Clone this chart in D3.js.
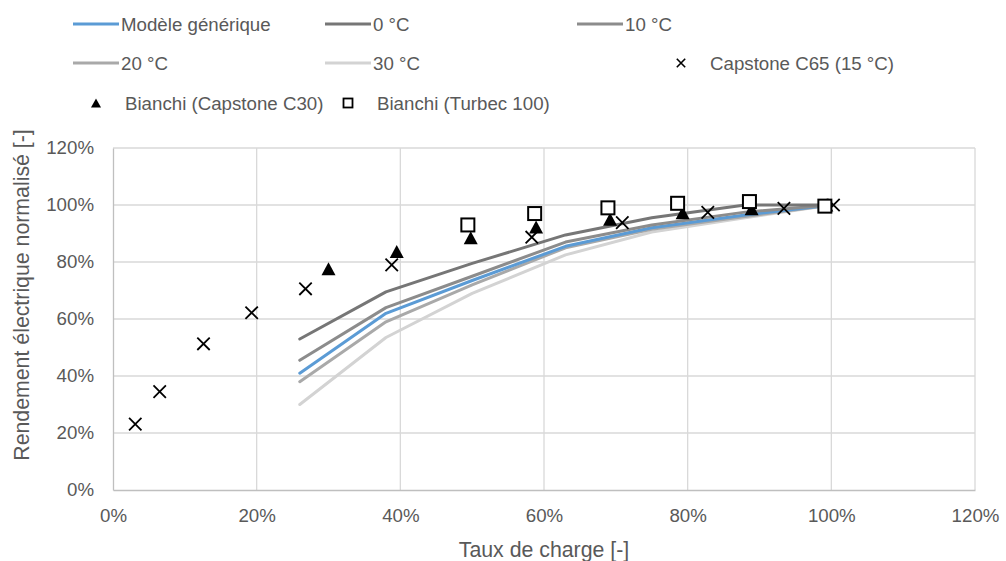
<!DOCTYPE html>
<html>
<head>
<meta charset="utf-8">
<script src="https://cdn.jsdelivr.net/npm/d3@7"></script>
<style>
  html, body { margin: 0; padding: 0; background: #fff; }
  svg { display: block; font-family: "Liberation Sans", Arial, sans-serif; }
</style>
</head>
<body>
<svg id="chart" width="1006" height="561"></svg>
<script>
// ---- Data ----
const loadPts = [0.26, 0.38, 0.50, 0.63, 0.75, 0.88, 1.00];
const generic = [0.41, 0.62, 0.735, 0.855, 0.92, 0.965, 1.00];
const temp0   = [0.53, 0.695, 0.795, 0.895, 0.955, 1.00, 1.00];
const temp10  = [0.455, 0.64, 0.75, 0.87, 0.93, 0.975, 1.00];
const temp20  = [0.38, 0.59, 0.72, 0.85, 0.915, 0.96, 1.00];
const temp30  = [0.30, 0.535, 0.69, 0.825, 0.905, 0.955, 1.00];

const c65X = [0.031, 0.065, 0.126, 0.193, 0.268, 0.388, 0.583, 0.709, 0.828, 0.934, 1.003];
const c65Y = [0.231, 0.345, 0.513, 0.622, 0.706, 0.790, 0.887, 0.938, 0.974, 0.988, 1.000];

const c30X = [0.300, 0.395, 0.498, 0.589, 0.692, 0.793, 0.889, 0.993];
const c30Y = [0.776, 0.837, 0.885, 0.923, 0.950, 0.973, 0.987, 1.000];

const turbecX = [0.494, 0.587, 0.689, 0.786, 0.886, 0.991];
const turbecY = [0.930, 0.970, 0.990, 1.006, 1.012, 0.996];

const xTicks = [0, 0.2, 0.4, 0.6, 0.8, 1.0, 1.2];
const yTicks = [0, 0.2, 0.4, 0.6, 0.8, 1.0, 1.2];

const lineSeries = [
  { name: "Modèle générique", values: generic, color: "#5b9bd5" },
  { name: "0 °C", values: temp0, color: "#767676" },
  { name: "10 °C", values: temp10, color: "#8c8c8c" },
  { name: "20 °C", values: temp20, color: "#a9a9a9" },
  { name: "30 °C", values: temp30, color: "#d3d3d3" }
];

// ---- Layout ----
const svg = d3.select("#chart");
const pL = 113, pR = 975, pT = 148, pB = 490;
const x = d3.scaleLinear().domain([0, 1.2]).range([pL, pR]);
const y = d3.scaleLinear().domain([0, 1.2]).range([pB, pT]);
const textColor = "#595959";
const fmt = d3.format(".0%");
const tickFont = "18.7px", legendFont = "18.7px", titleFont = "21.3px";

// gridlines
const grid = svg.append("g");
grid.selectAll("line.h").data(yTicks.slice(1)).join("line")
  .attr("x1", pL).attr("x2", pR)
  .attr("y1", d => y(d)).attr("y2", d => y(d))
  .attr("stroke", "#d9d9d9").attr("stroke-width", 1.3);
grid.selectAll("line.v").data(xTicks.slice(1)).join("line")
  .attr("y1", pT).attr("y2", pB)
  .attr("x1", d => x(d)).attr("x2", d => x(d))
  .attr("stroke", "#d9d9d9").attr("stroke-width", 1.3);

// axes
const xAxis = svg.append("g").attr("transform", `translate(0,${pB})`)
  .call(d3.axisBottom(x).tickValues(xTicks).tickFormat(fmt).tickSize(0).tickPadding(19));
const yAxis = svg.append("g").attr("transform", `translate(${pL},0)`)
  .call(d3.axisLeft(y).tickValues(yTicks).tickFormat(fmt).tickSize(0).tickPadding(19));
[xAxis, yAxis].forEach(a => {
  a.select(".domain").attr("stroke", "#bfbfbf").attr("stroke-width", 1.3);
  a.selectAll("text").attr("fill", textColor).style("font-size", tickFont)
    .style("font-family", '"Liberation Sans", Arial, sans-serif');
});

// axis titles
svg.append("text").attr("x", x(0.6)).attr("y", 557)
  .attr("text-anchor", "middle").attr("fill", textColor).style("font-size", titleFont)
  .text("Taux de charge [-]");
svg.append("text").attr("transform", "translate(29,295) rotate(-90)")
  .attr("text-anchor", "middle").attr("fill", textColor).style("font-size", titleFont)
  .text("Rendement électrique normalisé [-]");

// lines
const lineGen = d3.line().x((d, i) => x(loadPts[i])).y(d => y(d));
const drawOrder = [4, 3, 0, 2, 1];
svg.append("g").selectAll("path").data(drawOrder.map(i => lineSeries[i])).join("path")
  .attr("d", d => lineGen(d.values))
  .attr("fill", "none").attr("stroke", d => d.color)
  .attr("stroke-width", 3).attr("stroke-linejoin", "round").attr("stroke-linecap", "round");

// markers
function crossPath(s) { return `M${-s},${-s}L${s},${s}M${-s},${s}L${s},${-s}`; }
function triPath(w, h) { return `M0,${-h/2}L${w/2},${h/2}L${-w/2},${h/2}Z`; }

const mk = svg.append("g");
mk.selectAll("path.c65").data(c65X).join("path")
  .attr("transform", (d, i) => `translate(${x(d)},${y(c65Y[i])})`)
  .attr("d", crossPath(6.2)).attr("stroke", "#000").attr("stroke-width", 1.8).attr("fill", "none");
mk.selectAll("path.c30").data(c30X).join("path")
  .attr("transform", (d, i) => `translate(${x(d)},${y(c30Y[i])})`)
  .attr("d", triPath(14, 13)).attr("fill", "#000");
mk.selectAll("rect.tb").data(turbecX).join("rect")
  .attr("x", d => x(d) - 6.5).attr("y", (d, i) => y(turbecY[i]) - 6.5)
  .attr("width", 13).attr("height", 13)
  .attr("fill", "#fff").attr("stroke", "#000").attr("stroke-width", 2);

// legend
const legendItems = [
  { type: "line", name: lineSeries[0].name, color: lineSeries[0].color, lx: 73, row: 0 },
  { type: "line", name: lineSeries[1].name, color: lineSeries[1].color, lx: 325, row: 0 },
  { type: "line", name: lineSeries[2].name, color: lineSeries[2].color, lx: 577, row: 0 },
  { type: "line", name: lineSeries[3].name, color: lineSeries[3].color, lx: 73, row: 1 },
  { type: "line", name: lineSeries[4].name, color: lineSeries[4].color, lx: 325, row: 1 },
  { type: "cross", name: "Capstone C65 (15 °C)", lx: 658, row: 1 },
  { type: "tri", name: "Bianchi (Capstone C30)", lx: 73, row: 2 },
  { type: "square", name: "Bianchi (Turbec 100)", lx: 325, row: 2 }
];
const rowY = [24, 63, 103];
const lg = svg.append("g");
legendItems.forEach(it => {
  const g = lg.append("g").attr("transform", `translate(${it.lx},${rowY[it.row]})`);
  const cx = 23;
  if (it.type === "line") {
    g.append("line").attr("x1", 0).attr("x2", 46).attr("y1", 0).attr("y2", 0)
      .attr("stroke", it.color).attr("stroke-width", 3);
  } else if (it.type === "cross") {
    g.append("path").attr("transform", `translate(${cx},0)`).attr("d", crossPath(4.2))
      .attr("stroke", "#000").attr("stroke-width", 1.6).attr("fill", "none");
  } else if (it.type === "tri") {
    g.append("path").attr("transform", `translate(${cx},0)`).attr("d", triPath(10, 9)).attr("fill", "#000");
  } else {
    g.append("rect").attr("x", cx - 4.5).attr("y", -4.5).attr("width", 9).attr("height", 9)
      .attr("fill", "#fff").attr("stroke", "#000").attr("stroke-width", 1.8);
  }
  g.append("text").attr("x", it.type === "line" ? 48 : 52).attr("y", 0).attr("dy", "0.35em")
    .attr("fill", textColor).style("font-size", legendFont).text(it.name);
});
</script>
</body>
</html>
